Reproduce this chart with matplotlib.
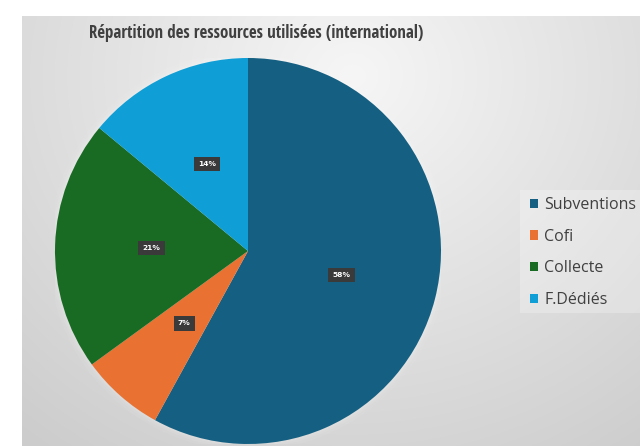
import numpy as np
import matplotlib
matplotlib.use("Agg")
import matplotlib.pyplot as plt
from matplotlib import font_manager
import matplotlib.patheffects as pe
from matplotlib.patches import Rectangle

# Resource split (international)
categories = ["Subventions", "Cofi", "Collecte", "F.Dédiés"]
shares = [58, 7, 21, 14]
colors = ["#156082", "#E97132", "#196B24", "#0F9ED5"]
title = "Répartition des ressources utilisées (international)"

W, H = 640, 446
fig = plt.figure(figsize=(W / 100, H / 100), dpi=100)
fig.patch.set_facecolor("white")

# Chart area with a soft radial grey gradient
bg = fig.add_axes([22 / W, 0, 1 - 22 / W, 1 - 16 / H])
bg.set_axis_off()
yy, xx = np.mgrid[0:430, 0:618]
cx, cy = 330, 60
d = np.sqrt(((xx - cx) / 520.0) ** 2 + ((yy - cy) / 470.0) ** 2)
shade = np.clip(0.965 - 0.165 * d, 0.80, 0.97)
bg.imshow(np.dstack([shade] * 3), aspect="auto", extent=[0, 1, 0, 1],
          origin="upper", interpolation="bilinear")
bg.set_xlim(0, 1)
bg.set_ylim(0, 1)

# Pie: circle centred at (248, 251) px with a radius of 193 px
cxp, cyp, r = 248, 251, 193
ax = fig.add_axes([(cxp - r) / W, (H - cyp - r) / H, 2 * r / W, 2 * r / H])
ax.set_axis_off()

# faint halo around the pie
for k, a in zip([1.035, 1.02, 1.01], [0.05, 0.07, 0.10]):
    ax.add_patch(plt.Circle((0, 0), k, color="white", alpha=a, lw=0))

wedges, texts, autotexts = ax.pie(
    shares, colors=colors, startangle=90, counterclock=False,
    autopct=lambda p: f"{p:.0f}%", pctdistance=0.5, radius=1,
    wedgeprops=dict(linewidth=0),
    textprops=dict(color="white", fontsize=5.4, fontweight="bold",
                   family=["DejaVu Sans"]),
)
for t in autotexts:
    t.set_bbox(dict(boxstyle="square,pad=0.55", facecolor="#3a3a3a",
                    edgecolor="none"))
ax.set_xlim(-1, 1)
ax.set_ylim(-1, 1)
ax.set_aspect("equal")


def weight_of(entry):
    w = entry.weight
    if isinstance(w, (int, float)):
        return int(w)
    return font_manager.weight_dict.get(str(w), 400)


# Title: choose the narrowest bold face among the common sans families
families = {"Liberation Sans Narrow", "Liberation Sans", "DejaVu Sans",
            "Roboto", "Roboto Condensed", "Open Sans", "Open Sans Condensed",
            "Lato", "Inter", "Noto Sans"}
renderer = fig.canvas.get_renderer()
probe = fig.text(0, 0, title, fontsize=12.5)
best = None
seen = set()
for f in font_manager.fontManager.ttflist:
    if f.fname in seen or str(f.style) != "normal" or f.name not in families:
        continue
    seen.add(f.fname)
    try:
        probe.set_fontproperties(font_manager.FontProperties(fname=f.fname,
                                                             size=12.5))
        bb = probe.get_window_extent(renderer)
    except Exception:
        continue
    wgt = weight_of(f)
    if wgt < 350 or wgt > 800:
        continue
    # prefer bold faces; lighter ones are thickened with a stroke
    score = bb.width * (1.0 if wgt >= 600 else 1.12)
    if best is None or score < best[0]:
        best = (score, f, wgt)
probe.remove()

if best is not None:
    title_prop = font_manager.FontProperties(fname=best[1].fname, size=12.5)
    needs_stroke = best[2] < 600
else:
    title_prop = font_manager.FontProperties(family="Roboto", weight="bold",
                                             size=12.5)
    needs_stroke = False
ttl = fig.text(256 / W, 1 - 33 / H, title, ha="center", va="center",
               color="#404040", fontproperties=title_prop)
if needs_stroke:
    ttl.set_path_effects([pe.withStroke(linewidth=0.7, foreground="#404040")])
tw = ttl.get_window_extent(renderer).width
if abs(tw - 336) > 8:
    ttl.set_fontsize(12.5 * 336 / tw)

# Legend panel
fig.patches.append(Rectangle((520 / W, 1 - 313 / H), 130 / W, 123 / H,
                             transform=fig.transFigure, facecolor="white",
                             alpha=0.25, edgecolor="none"))
leg = fig.legend(wedges, categories, loc="upper left",
                 bbox_to_anchor=(530 / W, 1 - 197 / H), frameon=False,
                 handlelength=0.5, handleheight=0.5, handletextpad=0.4,
                 labelspacing=0.98, borderaxespad=0, borderpad=0,
                 prop=dict(family=["Open Sans", "DejaVu Sans"], size=11.5))
for t in leg.get_texts():
    t.set_color("#404040")

fig.savefig("out.png", dpi=100, facecolor="white")
